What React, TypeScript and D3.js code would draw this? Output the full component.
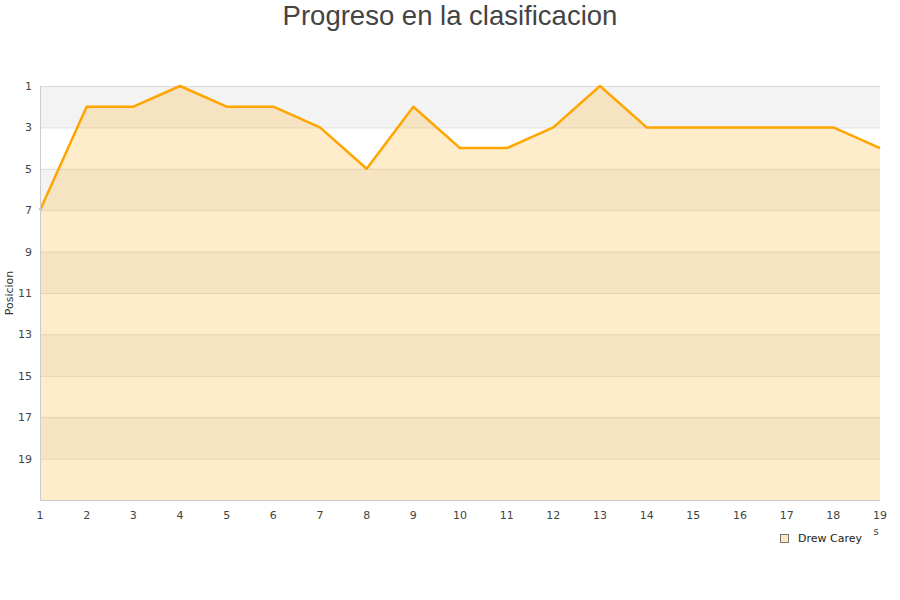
import React, { useRef, useEffect } from "react";
import * as d3 from "d3";

const rounds = [1, 2, 3, 4, 5, 6, 7, 8, 9, 10, 11, 12, 13, 14, 15, 16, 17, 18, 19];
const positions = [7, 2, 2, 1, 2, 2, 3, 5, 2, 4, 4, 3, 1, 3, 3, 3, 3, 3, 4];
const yTicks = [1, 3, 5, 7, 9, 11, 13, 15, 17, 19];
const seriesName = "Drew Carey";
const title = "Progreso en la clasificacion";
const yTitle = "Posicion";

const width = 900;
const height = 600;

export default function App() {
  const ref = useRef<SVGSVGElement | null>(null);

  useEffect(() => {
    const margin = { top: 86, right: 20, bottom: 100, left: 40 };
    const w = width - margin.left - margin.right;
    const h = height - margin.top - margin.bottom;

    const root = d3.select(ref.current);
    root.selectAll("*").remove();
    root.attr("width", width).attr("height", height);

    root
      .append("text")
      .attr("x", width / 2)
      .attr("y", 25)
      .attr("text-anchor", "middle")
      .attr("fill", "#444")
      .style("font-family", "'Liberation Sans', Arial, sans-serif")
      .style("font-size", "27.5px")
      .text(title);

    const svg = root.append("g").attr("transform", `translate(${margin.left},${margin.top})`);

    const x = d3.scaleLinear().domain([1, 19]).range([0, w]);
    const y = d3.scaleLinear().domain([1, 21]).range([0, h]);

    // alternating bands
    const bands = d3.range(1, 21, 2);
    svg
      .append("g")
      .selectAll("rect")
      .data(bands)
      .enter()
      .append("rect")
      .attr("x", 0)
      .attr("width", w)
      .attr("y", (d) => y(d))
      .attr("height", (d) => y(d + 2) - y(d))
      .attr("fill", (d, i) => (i % 2 === 0 ? "#f3f3f3" : "#ffffff"));

    // grid lines
    svg
      .append("g")
      .selectAll("line")
      .data(yTicks)
      .enter()
      .append("line")
      .attr("x1", 0)
      .attr("x2", w)
      .attr("y1", (d) => y(d) + 0.5)
      .attr("y2", (d) => y(d) + 0.5)
      .attr("stroke", (d) => (d === 1 ? "#d8d8d8" : "#dddddd"))
      .attr("stroke-width", 1);

    // area
    const area = d3
      .area<number>()
      .x((d, i) => x(rounds[i]))
      .y0(y(21))
      .y1((d) => y(d));
    svg
      .append("path")
      .datum(positions)
      .attr("fill", "rgb(251,179,43)")
      .attr("fill-opacity", 0.25)
      .attr("d", area);

    const line = d3
      .line<number>()
      .x((d, i) => x(rounds[i]))
      .y((d) => y(d));
    svg
      .append("path")
      .datum(positions)
      .attr("fill", "none")
      .attr("stroke", "#ffa500")
      .attr("stroke-width", 2.5)
      .attr("stroke-linejoin", "round")
      .attr("d", line);

    // axis lines
    svg
      .append("line")
      .attr("x1", 0.5)
      .attr("x2", 0.5)
      .attr("y1", 0)
      .attr("y2", h)
      .attr("stroke", "#ccc");
    svg
      .append("line")
      .attr("x1", 0)
      .attr("x2", w)
      .attr("y1", h + 0.5)
      .attr("y2", h + 0.5)
      .attr("stroke", "#ccc");

    const font = "'DejaVu Sans', Verdana, sans-serif";

    // y tick labels
    svg
      .append("g")
      .selectAll("text")
      .data(yTicks)
      .enter()
      .append("text")
      .attr("x", -8)
      .attr("y", (d) => y(d) + 4)
      .attr("text-anchor", "end")
      .attr("fill", "#444")
      .style("font-family", font)
      .style("font-size", "11px")
      .text((d) => d);

    // x tick labels
    svg
      .append("g")
      .selectAll("text")
      .data(rounds)
      .enter()
      .append("text")
      .attr("x", (d) => x(d))
      .attr("y", h + 19)
      .attr("text-anchor", "middle")
      .attr("fill", "#444")
      .style("font-family", font)
      .style("font-size", "11px")
      .text((d) => d);

    svg
      .append("text")
      .attr("transform", "rotate(-90)")
      .attr("x", -h / 2 + 0)
      .attr("y", -27)
      .attr("text-anchor", "middle")
      .attr("fill", "#333")
      .style("font-family", font)
      .style("font-size", "11px")
      .text(yTitle);

    // stray fragment of x title
    root
      .append("text")
      .attr("x", 876)
      .attr("y", 535)
      .attr("text-anchor", "middle")
      .attr("fill", "#444")
      .style("font-family", font)
      .style("font-size", "10px")
      .text("s");

    // legend
    const legend = root.append("g").attr("transform", "translate(780,534)");
    legend
      .append("rect")
      .attr("x", 0.5)
      .attr("y", 0.5)
      .attr("width", 8)
      .attr("height", 8)
      .attr("fill", "#fde7c0")
      .attr("stroke", "#777");
    legend
      .append("text")
      .attr("x", 18)
      .attr("y", 8)
      .attr("fill", "#222")
      .style("font-family", font)
      .style("font-size", "11px")
      .text(seriesName);
  }, []);

  return <svg ref={ref} style={{ position: "absolute", left: 0, top: 0 }} />;
}
